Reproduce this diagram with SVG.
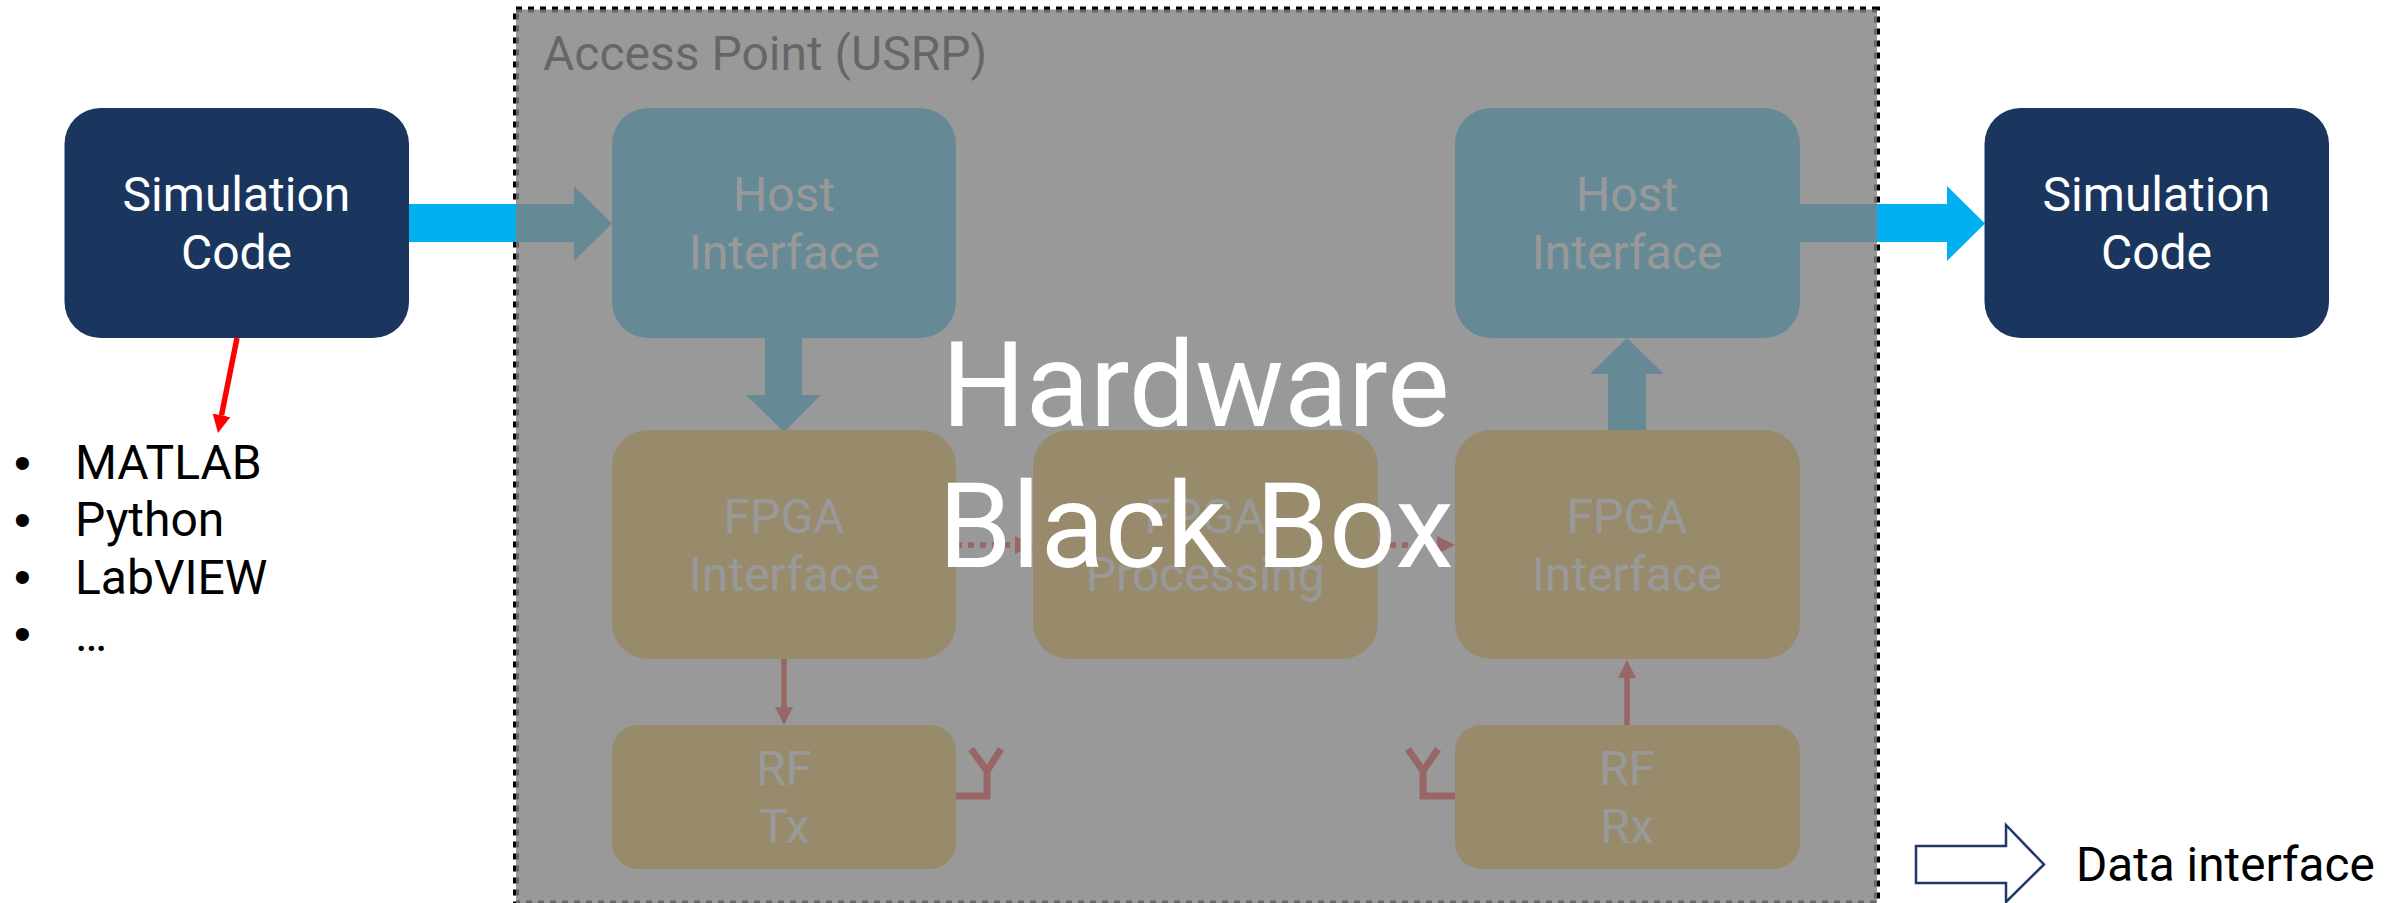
<svg xmlns="http://www.w3.org/2000/svg" width="2405" height="903" viewBox="0 0 2405 903">
<style>
text{font-family:Roboto,"Liberation Sans",sans-serif;font-size:48px;fill:#000}
.c{text-anchor:middle}
.w{fill:#fff}
.navy{fill:#1a365f}
.blue{fill:#00b0f0}
.amber{fill:#f4b820}
.red{stroke:#f00;stroke-width:5.5;fill:none}
.ant{stroke:#f00;stroke-width:7;fill:none}
</style>
<defs>
<marker id="rh" markerUnits="userSpaceOnUse" markerWidth="19" markerHeight="19" refX="0" refY="9" orient="auto"><path d="M0 0L18 9L0 18Z" fill="#f00"/></marker>
</defs>
<rect id="panel-border" x="516" y="9.5" width="1361" height="894" fill="#fff" stroke="#000" stroke-width="6" stroke-dasharray="6 6"/>
<g id="connectors">
<path class="blue" d="M409 204H574V186L612 223.500L574 261V242H409Z"/>
<path class="blue" d="M1800 204H1947V186L1985 223.500L1947 261V242H1800Z"/>
<path class="blue" d="M765 338H802V395H821L784 432L746 395H765Z"/>
<path class="blue" d="M1608 431V374H1590L1627 338L1664 374H1646V431Z"/>
<line class="red" x1="784" y1="659" x2="784" y2="707" marker-end="url(#rh)"/>
<line class="red" x1="1627" y1="725" x2="1627" y2="678" marker-end="url(#rh)"/>
<line class="red" x1="956" y1="545" x2="1015" y2="545" stroke-dasharray="6 6" marker-end="url(#rh)"/>
<line class="red" x1="1378" y1="545" x2="1437" y2="545" stroke-dasharray="6 6" marker-end="url(#rh)"/>
<path class="ant" d="M956 796H987V768M971 749L987 771L1001 749"/>
<path class="ant" d="M1455 796H1423V771M1408 749L1423 771L1438 749"/>
</g>
<g id="node-host-tx"><rect class="blue" x="612" y="108" width="344" height="230" rx="36"/><text class="c w" x="784" y="210.700">Host</text><text class="c w" x="784" y="269">Interface</text></g>
<g id="node-host-rx"><rect class="blue" x="1455" y="108" width="345" height="230" rx="36"/><text class="c w" x="1627" y="210.700">Host</text><text class="c w" x="1627" y="269">Interface</text></g>
<g id="node-fpga-tx"><rect class="amber" x="612" y="430" width="344" height="229" rx="36"/><text class="c w" x="784" y="533">FPGA</text><text class="c w" x="784" y="591">Interface</text></g>
<g id="node-fpga-proc"><rect class="amber" x="1033" y="430" width="345" height="229" rx="36"/><text class="c w" x="1205" y="533">FPGA</text><text class="c w" x="1205" y="591">Processing</text></g>
<g id="node-fpga-rx"><rect class="amber" x="1455" y="430" width="345" height="229" rx="36"/><text class="c w" x="1627" y="533">FPGA</text><text class="c w" x="1627" y="591">Interface</text></g>
<g id="node-rf-tx"><rect class="amber" x="612" y="725" width="344" height="144" rx="26"/><text class="c w" x="784" y="785">RF</text><text class="c w" x="784" y="843">Tx</text></g>
<g id="node-rf-rx"><rect class="amber" x="1455" y="725" width="345" height="144" rx="26"/><text class="c w" x="1627" y="785">RF</text><text class="c w" x="1627" y="843">Rx</text></g>
<text id="panel-label" x="543" y="70">Access Point (USRP)</text>
<rect id="panel-overlay" x="516" y="9.500" width="1361" height="894" fill="#7f7f7f" fill-opacity=".8"/>
<g id="node-sim-left"><rect class="navy" x="64.500" y="108" width="344.500" height="230" rx="36"/><text class="c w" x="236.500" y="210.700">Simulation</text><text class="c w" x="236.500" y="269">Code</text></g>
<g id="node-sim-right"><rect class="navy" x="1984.500" y="108" width="344.500" height="230" rx="36"/><text class="c w" x="2156.500" y="210.700">Simulation</text><text class="c w" x="2156.500" y="269">Code</text></g>
<line class="red" x1="237" y1="338" x2="221.500" y2="415.300" marker-end="url(#rh)"/>
<g id="list">
<text x="14" y="479" style="font-family:'Liberation Sans',sans-serif">•</text><text x="75" y="479">MATLAB</text>
<text x="14" y="536" style="font-family:'Liberation Sans',sans-serif">•</text><text x="75" y="536">Python</text>
<text x="14" y="593" style="font-family:'Liberation Sans',sans-serif">•</text><text x="75" y="594">LabVIEW</text>
<text x="14" y="650" style="font-family:'Liberation Sans',sans-serif">•</text><text x="75" y="651">…</text>
</g>
<g id="overlay-label"><text class="c w" x="1195.500" y="426" style="font-size:118px">Hardware</text><text class="c w" x="1196" y="567" style="font-size:118px">Black Box</text></g>
<g id="legend"><path d="M1916 846H2006V825L2044 864.500L2006 902V883H1916Z" fill="#fff" stroke="#1f3864" stroke-width="2.500"/><text x="2076" y="880.500" style="font-size:47.700px">Data interface</text></g>
</svg>
